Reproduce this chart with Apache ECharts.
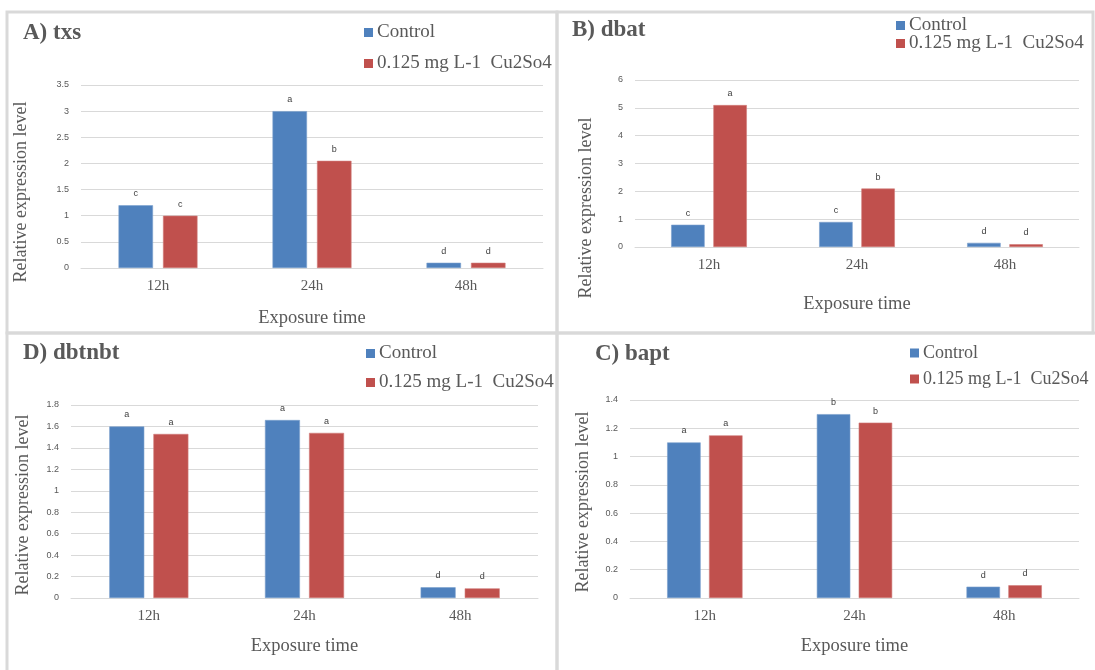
<!DOCTYPE html>
<html>
<head>
<meta charset="utf-8">
<script src="https://cdn.jsdelivr.net/npm/echarts@6/dist/echarts.min.js"></script>
<style>html,body{margin:0;padding:0;background:#fff}#c{width:1095px;height:670px}</style>
</head>
<body>
<div id="c"></div>
<script>
// ---- data ----
const categories = ['12h', '24h', '48h'];
const seriesNames = ['Control', '0.125 mg L-1  Cu2So4'];
const panelTitles = ['A) txs', 'B) dbat', 'D) dbtnbt', 'C) bapt'];

const txsControl = [1.2, 3.0, 0.1];
const txsCu = [1.0, 2.05, 0.1];
const txsLettersControl = ['c', 'a', 'd'];
const txsLettersCu = ['c', 'b', 'd'];

const dbatControl = [0.8, 0.9, 0.15];
const dbatCu = [5.1, 2.1, 0.1];
const dbatLettersControl = ['c', 'c', 'd'];
const dbatLettersCu = ['a', 'b', 'd'];

const dbtnbtControl = [1.6, 1.66, 0.1];
const dbtnbtCu = [1.53, 1.54, 0.09];
const dbtnbtLettersControl = ['a', 'a', 'd'];
const dbtnbtLettersCu = ['a', 'a', 'd'];

const baptControl = [1.1, 1.3, 0.08];
const baptCu = [1.15, 1.24, 0.09];
const baptLettersControl = ['a', 'b', 'd'];
const baptLettersCu = ['a', 'b', 'd'];

const yMax = [3.5, 6, 1.8, 1.4];
const yInterval = [0.5, 1, 0.2, 0.2];

// ---- layout ----
const serif = '"Liberation Serif", "Times New Roman", serif';
const sans = '"Liberation Sans", Arial, sans-serif';
const txt = '#595959';
const blue = '#4F81BD', red = '#C0504D';

const grids = [
  {left: 81, top: 85, width: 462, height: 183},
  {left: 635, top: 80, width: 444, height: 167},
  {left: 71, top: 405, width: 467, height: 193},
  {left: 630, top: 400, width: 449, height: 198}
];
const barW = [34.5, 33.5, 35, 33.5];
const barGaps = ['29%', '26%', '26%', '25%'];
const xNameGap = [41, 48, 39, 39];
const yNameGap = [51, 40, 39, 38];
const yNamePad = [31, 89, 7, 6];
const titlePos = [[23, 22], [572, 19], [23, 342], [595, 343]];
const legendPos = [[364, 23, 12], [896, 16, -1], [366, 344, 10], [910, 344, 8]];
const legendFont = [19, 19, 19, 18];

const dataSets = [
  [txsControl, txsCu, txsLettersControl, txsLettersCu],
  [dbatControl, dbatCu, dbatLettersControl, dbatLettersCu],
  [dbtnbtControl, dbtnbtCu, dbtnbtLettersControl, dbtnbtLettersCu],
  [baptControl, baptCu, baptLettersControl, baptLettersCu]
];

const option = {
  backgroundColor: '#fff',
  animation: false,
  title: panelTitles.map((t, i) => ({
    text: t, left: titlePos[i][0], top: titlePos[i][1], padding: 0,
    textStyle: {fontFamily: serif, fontWeight: 'bold', fontSize: 23, color: txt}
  })),
  legend: legendPos.map((p, i) => ({
    data: seriesNames, orient: 'vertical', left: p[0], top: p[1], itemGap: p[2],
    itemWidth: 9, itemHeight: 9, icon: 'rect', padding: 0,
    itemStyle: {borderWidth: 0},
    textStyle: {fontFamily: serif, fontSize: legendFont[i], color: txt, padding: [0, 0, 0, -1]}
  })),
  grid: grids.map(g => Object.assign({containLabel: false}, g)),
  xAxis: grids.map((g, i) => ({
    type: 'category', gridIndex: i, data: categories,
    name: 'Exposure time', nameLocation: 'middle', nameGap: xNameGap[i],
    nameTextStyle: {fontFamily: serif, fontSize: 18.5, color: txt},
    axisLine: {lineStyle: {color: '#D9D9D9'}}, axisTick: {show: false},
    axisLabel: {fontFamily: serif, fontSize: 15, color: txt, margin: 11}
  })),
  yAxis: grids.map((g, i) => ({
    type: 'value', gridIndex: i, min: 0, max: yMax[i], interval: yInterval[i],
    name: 'Relative expression level', nameLocation: 'middle', nameGap: yNameGap[i],
    nameTextStyle: {fontFamily: serif, fontSize: 18, color: txt, padding: [0, yNamePad[i], 0, 0]},
    axisLine: {show: false}, axisTick: {show: false},
    splitLine: {lineStyle: {color: '#D9D9D9'}},
    axisLabel: {fontFamily: sans, fontSize: 9, color: txt, margin: 12}
  })),
  series: [],
  graphic: [
    {type: 'rect', shape: {x: 7, y: 12, width: 550, height: 321}, style: {fill: 'none', stroke: '#D9D9D9', lineWidth: 3}, z: -1},
    {type: 'rect', shape: {x: 557, y: 12, width: 536, height: 321}, style: {fill: 'none', stroke: '#D9D9D9', lineWidth: 3}, z: -1},
    {type: 'rect', shape: {x: 7, y: 333, width: 550, height: 360}, style: {fill: 'none', stroke: '#D9D9D9', lineWidth: 3}, z: -1},
    {type: 'rect', shape: {x: 557, y: 333, width: 560, height: 360}, style: {fill: 'none', stroke: '#D9D9D9', lineWidth: 3}, z: -1}
  ]
};

dataSets.forEach((d, i) => {
  [0, 1].forEach(k => {
    const letters = d[2 + k];
    option.series.push({
      type: 'bar', name: seriesNames[k], xAxisIndex: i, yAxisIndex: i,
      data: d[k], barWidth: barW[i], barGap: barGaps[i],
      itemStyle: {color: k === 0 ? blue : red, borderColor: k === 0 ? '#7A9FCC' : '#D07C7A', borderWidth: 0.6},
      label: {
        show: true, position: 'top', distance: 7,
        fontFamily: sans, fontSize: 9, color: '#404040',
        formatter: p => letters[p.dataIndex]
      }
    });
  });
});

const chart = echarts.init(document.getElementById('c'));
chart.setOption(option);
</script>
</body>
</html>
